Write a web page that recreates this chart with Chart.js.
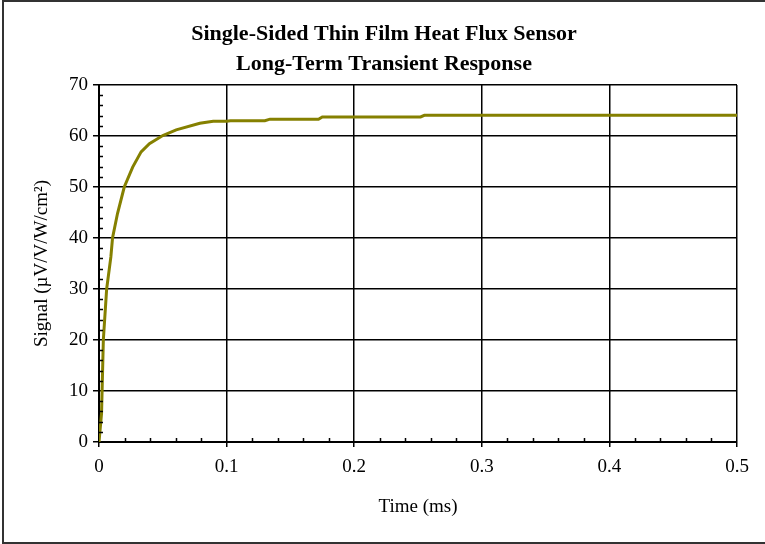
<!DOCTYPE html>
<html>
<head>
<meta charset="utf-8">
<script src="https://cdn.jsdelivr.net/npm/chart.js@4/dist/chart.umd.min.js"></script>
<style>
  html, body { margin: 0; padding: 0; background: #fff; overflow: hidden; }
  #wrap { position: relative; width: 765px; height: 544px; }
  #frame { position: absolute; left: 2px; top: 0; width: 800px; height: 544px;
           box-sizing: border-box; border: 2px solid #333; pointer-events: none; }
  canvas { position: absolute; left: 0; top: 0; }
</style>
</head>
<body>
<div id="wrap">
  <canvas id="sensor" width="765" height="544"></canvas>
  <div id="frame"></div>
</div>
<script>
// time (ms) and signal (uV/V/W/cm2)
const times  = [0, 0.002, 0.0034, 0.006, 0.0093, 0.0106, 0.0145, 0.0198, 0.0264, 0.033, 0.0395,
                0.05, 0.0605, 0.079, 0.0895, 0.1, 0.103, 0.13, 0.134, 0.172, 0.175, 0.252, 0.255, 0.5];
const signal = [0, 5.6, 20, 30, 36.3, 40, 44.8, 50, 53.9, 56.9, 58.5,
                60.1, 61.2, 62.5, 62.9, 62.9, 63.0, 63.0, 63.3, 63.3, 63.75, 63.75, 64.05, 64.05];
const xTicks = [0, 0.1, 0.2, 0.3, 0.4, 0.5];
const yTicks = [0, 10, 20, 30, 40, 50, 60, 70];
const titleLines = ['Single-Sided Thin Film Heat Flux Sensor', 'Long-Term Transient Response'];

const serif = "'Liberation Serif', 'Times New Roman', serif";

// small inside tick marks between the labelled ones
const minorTicks = {
  id: 'minorTicks',
  afterDraw(chart) {
    const { ctx, scales: { x, y }, chartArea } = chart;
    ctx.save();
    ctx.strokeStyle = '#000';
    ctx.lineWidth = 1.5;
    ctx.beginPath();
    for (let i = 1; i < 25; i++) {
      if (i % 5 === 0) continue;
      const px = Math.round(x.getPixelForValue(i * 0.02)) + 0.5;
      ctx.moveTo(px, chartArea.bottom);
      ctx.lineTo(px, chartArea.bottom - 4);
    }
    for (let i = 1; i < 35; i++) {
      if (i % 5 === 0) continue;
      const py = Math.round(y.getPixelForValue(i * 2)) + 0.5;
      ctx.moveTo(chartArea.left, py);
      ctx.lineTo(chartArea.left + 4, py);
    }
    ctx.stroke();
    ctx.restore();
  }
};

new Chart(document.getElementById('sensor'), {
  type: 'line',
  data: {
    datasets: [{
      data: times.map((t, i) => ({ x: t, y: signal[i] })),
      borderColor: '#858000',
      borderWidth: 3,
      pointRadius: 0,
      fill: false,
      tension: 0
    }]
  },
  options: {
    responsive: false,
    animation: false,
    layout: { padding: { left: 31, right: 28, top: 0, bottom: 26 } },
    plugins: {
      legend: { display: false },
      tooltip: { enabled: false },
      title: {
        display: true,
        text: titleLines,
        color: '#000',
        font: { family: serif, size: 22, weight: 'bold', lineHeight: 1.364 },
        padding: { top: 19, bottom: 6 }
      }
    },
    scales: {
      x: {
        type: 'linear',
        min: 0, max: 0.5,
        afterBuildTicks: s => { s.ticks = xTicks.map(v => ({ value: v })); },
        afterFit: s => { s.height = 76; },
        border: { display: true, color: '#000', width: 2 },
        grid: { color: '#000', lineWidth: 1.5, tickLength: 5, tickColor: '#000' },
        ticks: { color: '#000', font: { family: serif, size: 19 }, padding: 9, maxRotation: 0 },
        title: { display: true, text: 'Time (ms)', color: '#000', font: { family: serif, size: 19 }, padding: 0 }
      },
      y: {
        min: 0, max: 70,
        afterBuildTicks: s => { s.ticks = yTicks.map(v => ({ value: v })); },
        afterFit: s => { s.width = 68; },
        border: { display: true, color: '#000', width: 2 },
        grid: { color: '#000', lineWidth: 1.5, tickLength: 6, tickColor: '#000' },
        ticks: { color: '#000', font: { family: serif, size: 19 }, padding: 5 },
        title: { display: true, text: 'Signal (µV/V/W/cm²)', color: '#000', font: { family: serif, size: 19 }, padding: 0 }
      }
    }
  },
  plugins: [minorTicks]
});
</script>
</body>
</html>
